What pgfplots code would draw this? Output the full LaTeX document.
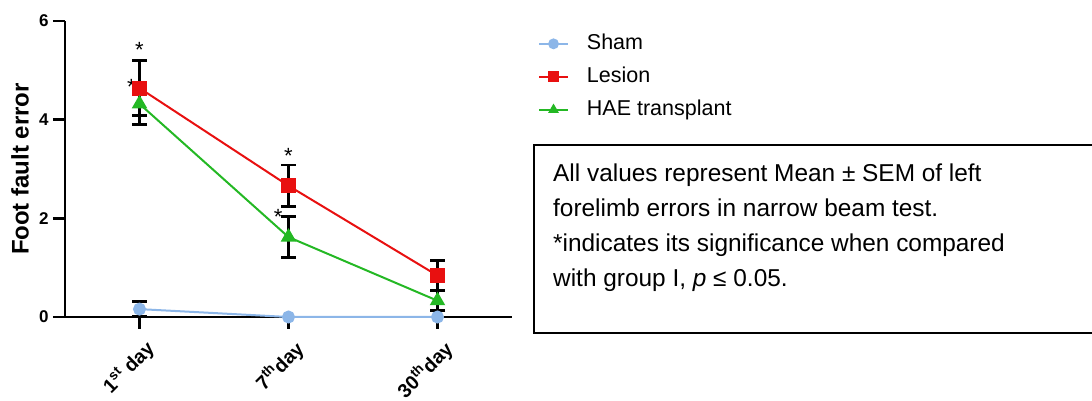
\documentclass[border=0pt]{standalone}
\usepackage{pgfplots}
\pgfplotsset{compat=1.18}
\usepackage{fontspec}
\setmainfont{Liberation Sans}
\definecolor{shamc}{RGB}{140,182,232}
\definecolor{lesionc}{RGB}{232,16,16}
\definecolor{haec}{RGB}{36,184,36}
\begin{document}
\begin{tikzpicture}
\useasboundingbox (0,0) rectangle (1092pt,401pt);
\begin{axis}[
  at={(65pt,84pt)}, anchor=south west,
  scale only axis, width=447pt, height=296pt,
  xmin=-0.5, xmax=2.5, ymin=0, ymax=6,
  clip=false,
  axis lines*=left,
  axis line style={black, line width=2.8pt},
  xtick={0,1,2},
  xticklabels={1\textsuperscript{st} day, 7\textsuperscript{th}day, 30\textsuperscript{th}day},
  ytick={0,2,4,6},
  tick align=outside,
  major tick length=12pt,
  tick style={black, line width=2.5pt},
  /pgf/number format/assume math mode=true,
  yticklabel style={font=\fontsize{17}{20}\selectfont\bfseries, xshift=-1pt},
  xticklabel style={font=\fontsize{19.5}{23}\selectfont\bfseries, rotate=45, anchor=north east, xshift=0pt, yshift=-6pt},
  ylabel={Foot fault error},
  every axis y label/.style={at={(axis description cs:-0.1007,0.5)}, rotate=90, anchor=center, font=\fontsize{24}{28}\selectfont\bfseries},
  legend style={draw=none, fill=none, at={(1.058,0.959)}, anchor=north west,
    font=\fontsize{21.5}{26}\selectfont, row sep=12pt, inner sep=0pt,
    nodes={inner sep=0pt, text height=16pt, text depth=5pt},
    /tikz/every odd column/.append style={column sep=18pt}},
  legend cell align=left,
  legend image code/.code={\draw[mark repeat=2,mark phase=2,#1] plot coordinates {(0pt,0pt) (14.5pt,0pt) (29pt,0pt)};},
  legend image post style={line width=1.8pt, mark size=4.5pt},
  error bars/error bar style={black, line width=2.8pt},
  error bars/error mark options={black, rotate=90, mark size=7.5pt, line width=2.8pt},
]
\addplot[shamc, line width=2pt, mark=*, mark size=5.5pt, mark options={fill=shamc, draw=shamc},
  error bars/.cd, y dir=both, y explicit]
  coordinates {(0,0.16) +- (0,0.15) (1,0) (2,0)};
\addlegendentry{Sham}
\addplot[lesionc, line width=2pt, mark=square*, mark size=6.5pt, mark options={fill=lesionc, draw=lesionc},
  error bars/.cd, y dir=both, y explicit]
  coordinates {(0,4.64) +- (0,0.56) (1,2.66) +- (0,0.42) (2,0.84) +- (0,0.30)};
\addlegendentry{Lesion}
\addplot[haec, line width=2pt, mark=triangle*, mark size=7pt, mark options={fill=haec, draw=haec},
  error bars/.cd, y dir=both, y explicit]
  coordinates {(0,4.32) +- (0,0.41) (1,1.62) +- (0,0.42) (2,0.33) +- (0,0.20)};
\addlegendentry{HAE transplant}
\node[font=\fontsize{22}{26}\selectfont, inner sep=0pt, yshift=-4.7pt] at (axis cs:0,5.5) {*};
\node[font=\fontsize{22}{26}\selectfont, inner sep=0pt, yshift=-4.7pt] at (axis cs:-0.054,4.75) {*};
\node[font=\fontsize{22}{26}\selectfont, inner sep=0pt, yshift=-4.7pt] at (axis cs:1,3.35) {*};
\node[font=\fontsize{22}{26}\selectfont, inner sep=0pt, yshift=-4.7pt] at (axis cs:0.93,2.13) {*};
\end{axis}
\draw[black, line width=1.5pt] (1092pt,256pt) -- (534pt,256pt) -- (534pt,68pt) -- (1092pt,68pt);
\begin{scope}[every node/.style={anchor=base west, inner sep=0pt, font=\fontsize{24.4}{29}\selectfont}]
\node at (553pt,219pt) {All values represent Mean ± SEM of left};
\node at (553pt,184pt) {forelimb errors in narrow beam test.};
\node at (553pt,149pt) {*indicates its significance when compared};
\node at (553pt,114pt) {with group I, \textit{p} ≤ 0.05.};
\end{scope}
\end{tikzpicture}
\end{document}
